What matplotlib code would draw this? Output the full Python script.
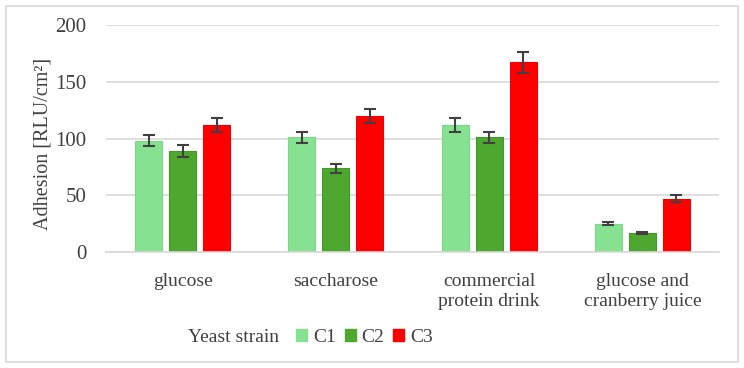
import matplotlib
matplotlib.use("Agg")
import matplotlib.pyplot as plt
import numpy as np
from matplotlib.patches import Rectangle, Patch

categories = ["glucose", "saccharose", "commercial\nprotein drink", "glucose and\ncranberry juice"]
series_names = ["C1", "C2", "C3"]
c1 = [98, 101, 112, 25]
c2 = [89, 74, 101, 17]
c3 = [112, 120, 167, 47]
c1_err = [5, 5, 6, 1.5]
c2_err = [5, 4, 5, 1]
c3_err = [6, 6, 9, 3]
yticks = [0, 50, 100, 150, 200]

colors = ["#86E290", "#4EA72E", "#FF0000"]
edges = ["#7CD886", "#3F9A2A", "#F00000"]
txt = "#404040"

plt.rcParams["font.family"] = ["Liberation Serif", "DejaVu Serif"]

fig = plt.figure(figsize=(7.44, 3.68), dpi=100)
ax = fig.add_axes([0.1425, 0.315, 0.824, 0.617])

x = np.arange(len(categories))
w = 0.176
step = 0.222
for i, (vals, errs) in enumerate(zip([c1, c2, c3], [c1_err, c2_err, c3_err])):
    pos = x + (i - 1) * step
    ax.bar(pos, vals, width=w, color=colors[i], edgecolor=edges[i], linewidth=0.8, zorder=2,
           label=series_names[i])
    ax.errorbar(pos, vals, yerr=errs, fmt="none", ecolor="#404040", elinewidth=1.5,
                capsize=4, capthick=1.5, zorder=3)

ax.set_xlim(-0.5, 3.5)
ax.set_ylim(0, 200)
ax.set_yticks(yticks)
ax.set_yticklabels([str(t) for t in yticks], fontsize=15, color=txt)
ax.set_xticks(x)
ax.set_xticklabels(categories, fontsize=14, color=txt, linespacing=1.2)
ax.tick_params(axis="both", length=0)
ax.tick_params(axis="x", pad=15)
ax.tick_params(axis="y", pad=14)
ax.grid(axis="y", color="#D9D9D9", linewidth=1.2, zorder=0)
ax.set_axisbelow(True)
for s in ["top", "right", "left"]:
    ax.spines[s].set_visible(False)
ax.spines["bottom"].set_color("#D9D9D9")
ax.spines["bottom"].set_linewidth(1.2)

ax.set_ylabel("Adhesion [RLU/cm²]", fontsize=14.5, color=txt)
ax.yaxis.set_label_coords(-0.088, 0.478)

fig.text(188 / 744, 0.084, "Yeast strain", fontsize=14, color=txt, ha="left", va="center")
handles = [Patch(facecolor=colors[i], edgecolor=colors[i]) for i in range(3)]
fig.legend(handles, series_names, loc="center left", bbox_to_anchor=(296 / 744, 0.084), ncol=3,
           frameon=False, fontsize=14, handlelength=0.57, handleheight=0.57,
           handletextpad=0.3, columnspacing=0.45, labelcolor=txt, borderaxespad=0,
           borderpad=0)

fig.patches.append(Rectangle((0.008, 0.017), 0.984, 0.966, transform=fig.transFigure,
                             fill=False, edgecolor="#D9D9D9", linewidth=1.2))

fig.savefig("out.png", dpi=100)
